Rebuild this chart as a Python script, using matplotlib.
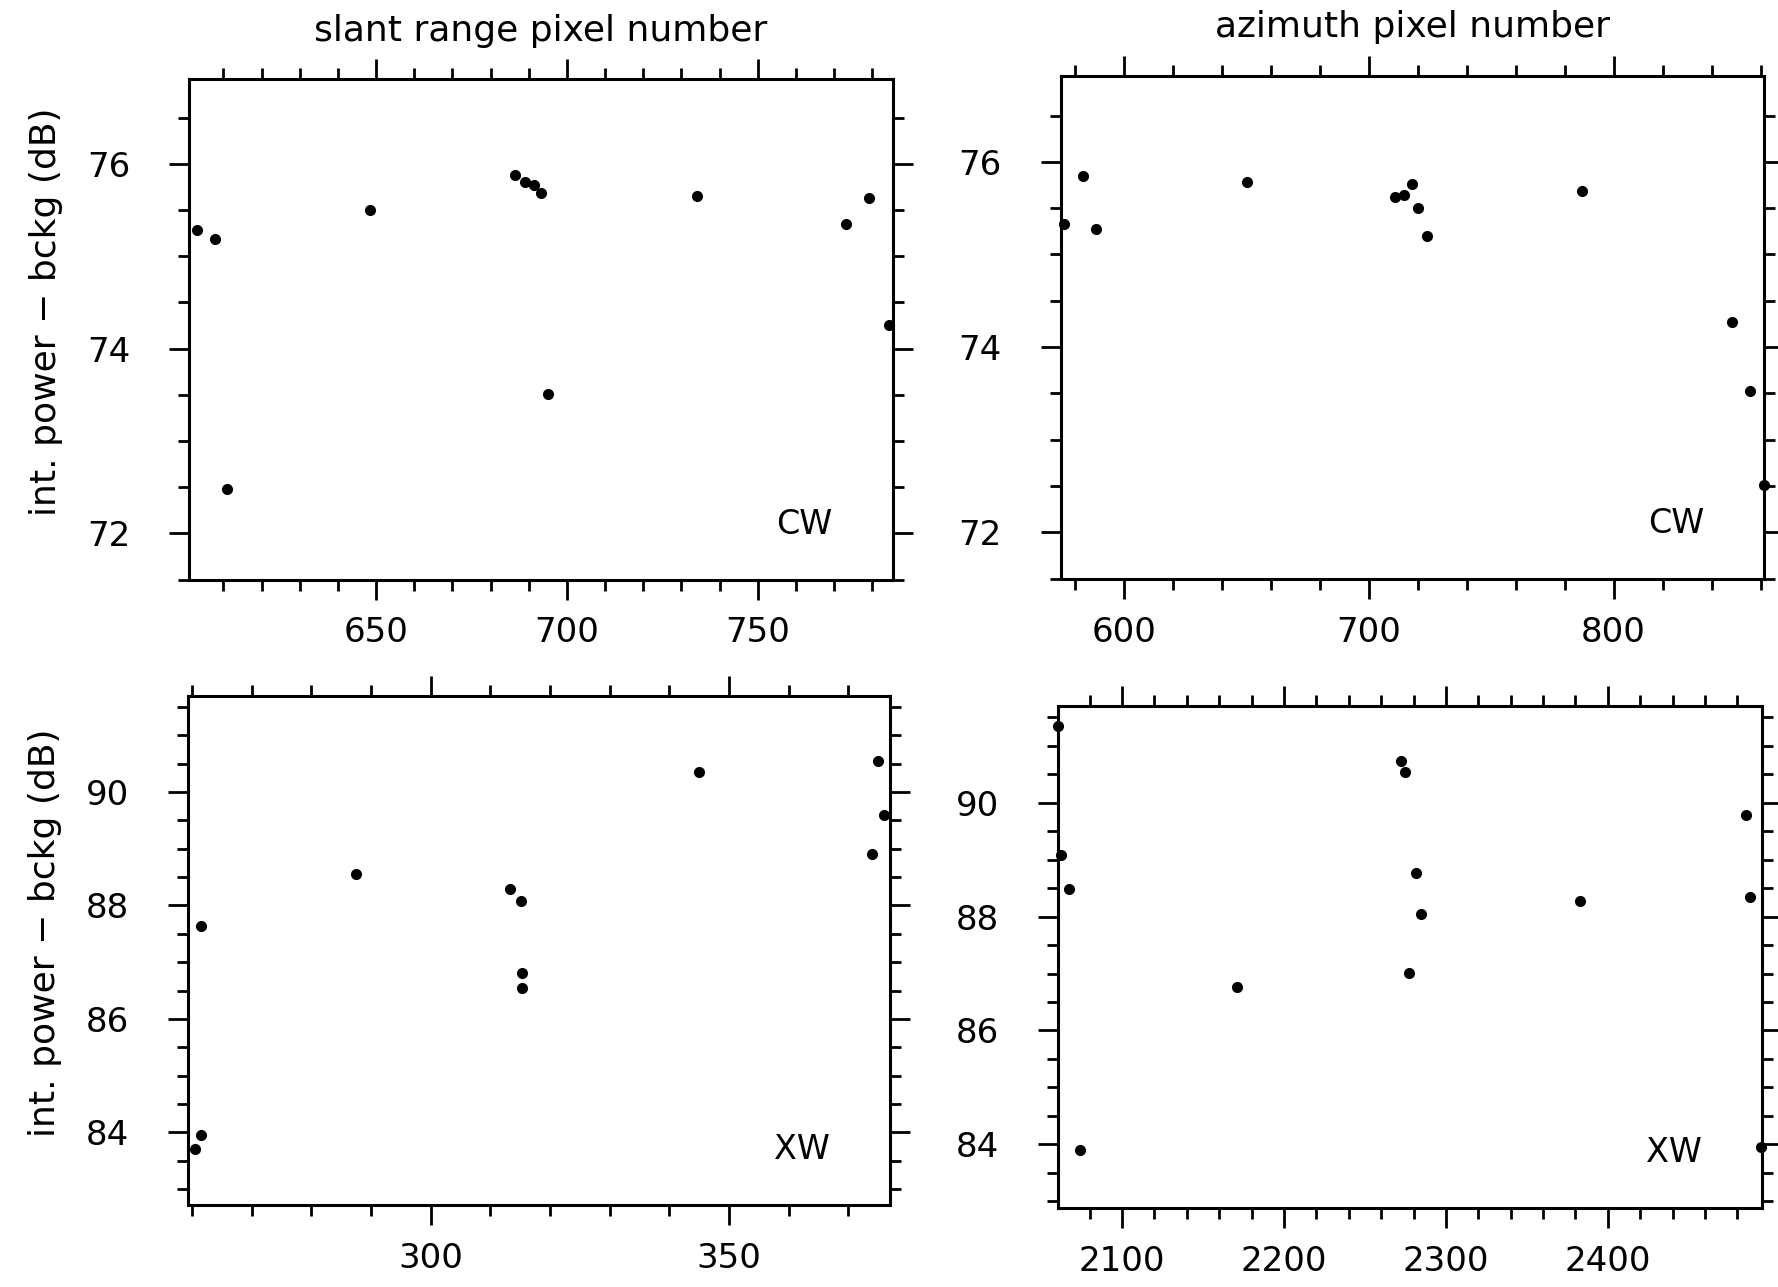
import matplotlib.pyplot as plt
from matplotlib.ticker import MultipleLocator

plt.rcParams['font.family'] = ['DejaVu Sans']

# CW, slant range
cw_rng_x = [603.1, 607.9, 610.9, 648.5, 686.4, 689.1, 691.4, 693.2, 695.1,
            734.2, 773.0, 779.0, 784.3]
cw_rng_y = [75.28, 75.19, 72.48, 75.50, 75.88, 75.80, 75.77, 75.68, 73.51,
            75.65, 75.35, 75.63, 74.25]

# CW, azimuth
cw_az_x = [575.4, 583.1, 588.5, 650.4, 710.7, 714.4, 717.7, 720.3, 723.8,
           786.9, 848.5, 855.6, 861.4]
cw_az_y = [75.33, 75.85, 75.27, 75.78, 75.62, 75.64, 75.76, 75.50, 75.20,
           75.68, 74.27, 73.53, 72.51]

# XW, slant range
xw_rng_x = [260.6, 261.5, 261.5, 287.5, 313.3, 315.2, 315.4, 315.4, 345.0,
            374.0, 375.0, 376.0]
xw_rng_y = [83.70, 83.96, 87.63, 88.55, 88.29, 88.08, 86.80, 86.54, 90.35,
            88.90, 90.54, 89.60]

# XW, azimuth
xw_az_x = [2060.5, 2062.0, 2067.3, 2073.8, 2171.0, 2272.2, 2275.0, 2281.8,
           2284.6, 2277.5, 2382.9, 2485.2, 2488.0, 2494.5]
xw_az_y = [91.35, 89.09, 88.48, 83.90, 86.76, 90.74, 90.54, 88.76, 88.04,
           87.01, 88.27, 89.78, 88.34, 83.96]

ylab = 'int. power \u2212 bckg (dB)'

fig = plt.figure(figsize=(17.78, 12.87), dpi=100)


def panel(rect, x, y, xlim, ylim, xmaj, xmin, tag, xlabel=None, ylabel=None):
    ax = fig.add_axes(rect)
    ax.plot(x, y, 'o', color='k', ms=7, clip_on=False, zorder=5)
    ax.set_xlim(xlim)
    ax.set_ylim(ylim)
    ax.xaxis.set_major_locator(MultipleLocator(xmaj))
    ax.xaxis.set_minor_locator(MultipleLocator(xmin))
    ax.yaxis.set_major_locator(MultipleLocator(2))
    ax.yaxis.set_minor_locator(MultipleLocator(0.5))
    for s in ax.spines.values():
        s.set_linewidth(2.2)
    ax.tick_params(which='both', direction='out', top=True, right=True,
                   width=2.0, labelsize=24.5)
    ax.tick_params(which='major', length=14.5)
    ax.tick_params(which='minor', length=8)
    ax.tick_params(axis='y', which='major', pad=28)
    ax.tick_params(axis='x', which='major', pad=12)
    ax.text(0.875, 0.11, tag, transform=ax.transAxes, fontsize=24,
            ha='center', va='center')
    if xlabel:
        ax.xaxis.set_label_position('top')
        ax.set_xlabel(xlabel, fontsize=26, labelpad=13)
    if ylabel:
        ax.set_ylabel(ylabel, fontsize=26)
        ax.yaxis.set_label_coords(-0.18, 0.535)
    return ax


panel([0.1065, 0.5497, 0.3955, 0.3891], cw_rng_x, cw_rng_y, (601.1, 785.3),
      (71.5, 76.92), 50, 10, 'CW', xlabel='slant range pixel number', ylabel=ylab)
panel([0.5966, 0.5503, 0.3955, 0.3909], cw_az_x, cw_az_y, (574.2, 861.4),
      (71.5, 76.93), 100, 20, 'CW', xlabel='azimuth pixel number')
panel([0.1059, 0.0637, 0.3947, 0.3955], xw_rng_x, xw_rng_y, (259.4, 377.0),
      (82.72, 91.69), 50, 10, 'XW', ylabel=ylab)
panel([0.5952, 0.0614, 0.3956, 0.3900], xw_az_x, xw_az_y, (2060.6, 2495.0),
      (82.88, 91.70), 100, 20, 'XW')

fig.savefig('out.png', dpi=100)
